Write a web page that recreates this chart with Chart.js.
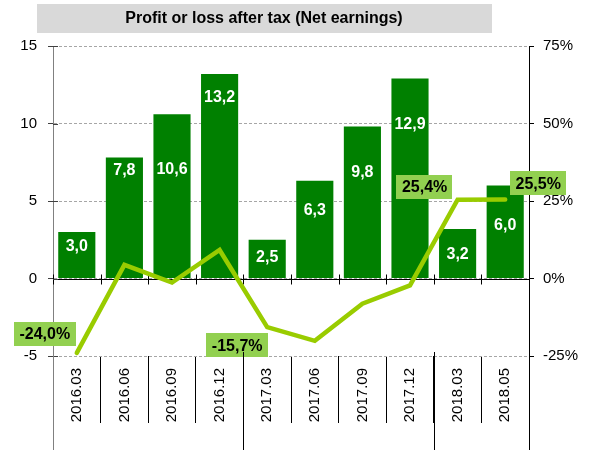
<!DOCTYPE html>
<html><head><meta charset="utf-8">
<script src="https://cdn.jsdelivr.net/npm/chart.js@4/dist/chart.umd.min.js"></script>
<style>html,body{margin:0;padding:0;background:#fff;overflow:hidden}</style>
</head><body>
<canvas id="c" width="592" height="450"></canvas>
<script>
const chartTitle = 'Profit or loss after tax (Net earnings)';
const categories = ['2016.03','2016.06','2016.09','2016.12','2017.03','2017.06','2017.09','2017.12','2018.03','2018.05'];
const netEarnings = [3.0, 7.8, 10.6, 13.2, 2.5, 6.3, 9.8, 12.9, 3.2, 6.0];
const changePct = [-24.0, 4.4, -1.3, 9.2, -15.7, -20.1, -8.1, -2.2, 25.4, 25.5];
const leftTicks = [-5, 0, 5, 10, 15];
const rightTicks = [-25, 0, 25, 50, 75];
const labelledPoints = [0, 4, 8, 9];

const FONT = "'Liberation Sans', Arial, sans-serif";
const fmt = (v, d) => v.toFixed(d).replace('.', ',');

// layout: distance (px) of each bar label's centre below the bar top
const barLabelDrop = [14.5, 13, 55, 23.5, 18, 30, 46, 46, 25.5, 40.5];
// layout: offset of line value box centre from its point
const pointLabelOffsets = {0: [-32, -19], 4: [-30, 18], 8: [-33, -13], 9: [33, -16]};

const decoPlugin = {
  id: 'deco',
  beforeDraw(chart) {
    const ctx = chart.ctx;
    ctx.save();
    ctx.fillStyle = '#D9D9D9';
    ctx.fillRect(37, 4, 455, 29);
    ctx.fillStyle = '#000';
    ctx.font = 'bold 16px ' + FONT;
    ctx.textAlign = 'center';
    ctx.textBaseline = 'middle';
    ctx.fillText(chartTitle, 264, 19);
    ctx.restore();
  },
  beforeDatasetsDraw(chart) {
    const {ctx, chartArea, scales} = chart;
    const x = scales.x, y = scales.y;
    ctx.save();
    const y0 = Math.round(y.getPixelForValue(0)) + 0.5;
    ctx.strokeStyle = '#000';
    ctx.lineWidth = 1;
    ctx.beginPath();
    ctx.moveTo(chartArea.left, y0);
    ctx.lineTo(chartArea.right, y0);
    for (let i = 0; i <= categories.length; i++) {
      const px = Math.round(x.getPixelForValue(i - 0.5)) + 0.5;
      ctx.moveTo(px, y0 - 5);
      ctx.lineTo(px, y0 + 5);
    }
    ctx.stroke();
    ctx.strokeStyle = '#404040';
    ctx.beginPath();
    leftTicks.forEach(v => {
      const py = Math.round(y.getPixelForValue(v)) + 0.5;
      ctx.moveTo(chartArea.left, py);
      ctx.lineTo(chartArea.left + 5, py);
    });
    ctx.stroke();
    ctx.restore();
  },
  afterDatasetsDraw(chart) {
    const ctx = chart.ctx;
    ctx.save();
    const mb = chart.getDatasetMeta(0);
    ctx.font = 'bold 16px ' + FONT;
    ctx.textAlign = 'center';
    ctx.textBaseline = 'middle';
    ctx.fillStyle = '#fff';
    mb.data.forEach((el, i) => {
      ctx.fillText(fmt(netEarnings[i], 1), el.x, el.y + barLabelDrop[i]);
    });
    const ml = chart.getDatasetMeta(1);
    labelledPoints.forEach(i => {
      const el = ml.data[i];
      const off = pointLabelOffsets[i];
      const txt = fmt(changePct[i], 1) + '%';
      const w = ctx.measureText(txt).width + 11;
      const h = 24;
      const cx = el.x + off[0], cy = el.y + off[1];
      ctx.fillStyle = '#92D050';
      ctx.fillRect(Math.round(cx - w / 2), Math.round(cy - h / 2), Math.round(w), h);
      ctx.fillStyle = '#000';
      ctx.fillText(txt, cx, cy + 1);
    });
    ctx.restore();
  },
  afterDraw(chart) {
    const {ctx, chartArea, scales} = chart;
    const x = scales.x;
    ctx.save();
    ctx.lineWidth = 1;
    const bounds = [0];
    for (let i = 1; i < categories.length; i++) {
      if (categories[i].slice(0, 4) !== categories[i - 1].slice(0, 4)) bounds.push(i);
    }
    bounds.push(categories.length);
    bounds.forEach((b, k) => {
      const px = Math.round(x.getPixelForValue(b - 0.5)) + 0.5;
      ctx.strokeStyle = k === 0 ? '#808080' : '#000';
      ctx.beginPath();
      ctx.moveTo(px, k === 0 || k === bounds.length - 1 ? chartArea.bottom : chartArea.bottom - 4);
      ctx.lineTo(px, chart.height);
      ctx.stroke();
    });
    ctx.restore();
  }
};

new Chart(document.getElementById('c'), {
  data: {
    labels: categories,
    datasets: [
      {
        type: 'bar',
        label: 'Net earnings',
        data: netEarnings,
        yAxisID: 'y',
        backgroundColor: '#008000',
        borderWidth: 0,
        barPercentage: 0.78,
        categoryPercentage: 1.0,
        order: 2
      },
      {
        type: 'line',
        label: 'Change',
        data: changePct,
        yAxisID: 'y2',
        borderColor: '#99CC00',
        backgroundColor: '#99CC00',
        borderWidth: 4.5,
        borderCapStyle: 'round',
        borderJoinStyle: 'miter',
        pointRadius: 0,
        tension: 0,
        order: 1
      }
    ]
  },
  options: {
    responsive: false,
    animation: false,
    devicePixelRatio: 1,
    layout: {padding: {top: 46, left: 0, right: 0, bottom: 0}},
    plugins: {legend: {display: false}, title: {display: false}, tooltip: {enabled: false}},
    scales: {
      x: {
        type: 'category',
        position: 'bottom',
        offset: true,
        grid: {offset: true, drawOnChartArea: false, tickLength: 67, color: '#000', tickColor: '#000'},
        border: {display: false},
        ticks: {minRotation: 90, maxRotation: 90, autoSkip: false, padding: -55, color: '#000', font: {size: 15, family: FONT}},
        afterFit(s) { s.height = 94; }
      },
      y: {
        position: 'left',
        min: -5, max: 15,
        afterBuildTicks(s) { s.ticks = leftTicks.map(v => ({value: v})); },
        ticks: {color: '#000', padding: 11, font: {size: 15, family: FONT}},
        grid: {color: '#A6A6A6', lineWidth: 1, tickLength: 5, tickColor: '#404040'},
        border: {display: true, color: '#808080', width: 1, dash: [3, 2]},
        afterFit(s) { s.width = 53; }
      },
      y2: {
        position: 'right',
        min: -25, max: 75,
        afterBuildTicks(s) { s.ticks = rightTicks.map(v => ({value: v})); },
        ticks: {color: '#000', padding: 9, font: {size: 15, family: FONT}, callback: v => v + '%'},
        grid: {drawOnChartArea: false, tickLength: 5, tickColor: '#000'},
        border: {display: true, color: '#000', width: 1},
        afterFit(s) { s.width = 63; }
      }
    }
  },
  plugins: [decoPlugin]
});
</script>
</body></html>
